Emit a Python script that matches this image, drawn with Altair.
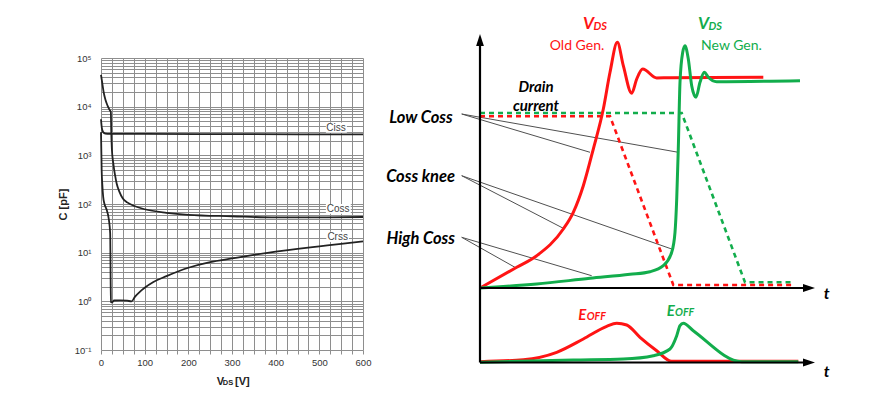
import altair as alt
import pandas as pd

# ================= Left panel: capacitance vs V_DS =================
ciss_v = [0, 2, 5, 10, 20, 100, 300, 600]
ciss_c = [5500, 3600, 3000, 2800, 2750, 2750, 2720, 2700]
coss_v = [0, 3, 6, 10, 15, 20, 22.5, 23.5, 25, 28, 32, 36, 42, 50, 60, 75, 100, 150, 200, 300, 400, 500, 600]
coss_c = [45000, 30000, 20000, 14000, 10500, 8500, 7800, 3000, 1300, 700, 400, 260, 180, 130, 108, 92, 78, 66, 60, 56, 53, 53, 54]
crss_v = [0, 1.5, 3, 5, 8, 13, 18, 21, 22.7, 25, 30, 45, 60, 70, 78, 90, 100, 120, 150, 200, 250, 300, 350, 400, 450, 500, 550, 600]
crss_c = [3000, 500, 250, 140, 100, 76, 48, 25, 0.97, 0.95, 1.04, 1.05, 1.03, 1.0, 1.25, 1.6, 1.9, 2.5, 3.3, 4.9, 6.4, 7.6, 9.0, 10.5, 12, 13.5, 15.2, 17]

cap_names = ["Ciss", "Coss", "Crss"]
cap_label_v = [538, 543, 542]
cap_label_c = [3660, 80, 21]
box_v0 = [515, 515, 516]
box_v1 = [563, 572, 568]
box_c0 = [2920, 63, 16.6]
box_c1 = [4680, 100, 27]

xtitle_text = ["V", "DS", "[V]"]
xtitle_v = [264.9, 279, 306.9]
xtitle_c = [0.0191, 0.0191, 0.0191]
xtitle_size = [11, 7.5, 11]

grid_v = list(range(0, 601, 25))
grid_c = sorted(set([round(k * 10.0 ** e, 6) for e in range(-1, 5) for k in range(1, 10)] + [100000.0]))
sup = {-1: "10⁻¹", 0: "10⁰", 1: "10¹", 2: "10²", 3: "10³", 4: "10⁴", 5: "10⁵"}
label_expr = ""
for e, s in sup.items():
    val = 10.0 ** e
    label_expr += f"abs(datum.value - {val}) < {val * 1e-6} ? '{s}' : "
label_expr += "''"

GRID = "#8e8e8e"
x_scale = alt.Scale(domain=[0, 600], nice=False, zero=False)
y_scale = alt.Scale(type="log", domain=[0.1, 100000], nice=False)
x_axis = alt.Axis(values=grid_v, labelExpr="datum.value % 100 == 0 ? datum.label : ''",
                  grid=True, gridColor=GRID, gridWidth=1, ticks=True, tickSize=4,
                  tickColor=GRID, domain=False, labelPadding=3, labelFontSize=9.5,
                  labelColor="#333", labelFont="Liberation Sans", title=None,
                  labelFlush=False, labelOverlap=False)
y_axis = alt.Axis(values=grid_c, labelExpr=label_expr, grid=True, gridColor=GRID,
                  gridWidth=1, ticks=False, tickSize=0, domain=False, labelPadding=10,
                  labelFontSize=9.5, labelColor="#333", labelFont="Liberation Sans",
                  title="C [pF]", titleFontSize=11, titleFont="Liberation Sans",
                  titleFontWeight="bold", titleColor="#222", titlePadding=7,
                  minExtent=26, maxExtent=26, labelOverlap=False, labelFlush=False)
LX = alt.X("V:Q", scale=x_scale, axis=x_axis)
LY = alt.Y("C:Q", scale=y_scale, axis=y_axis)

cap_df = pd.DataFrame({
    "V": ciss_v + coss_v + crss_v,
    "C": ciss_c + coss_c + crss_c,
    "curve": ["Ciss"] * len(ciss_v) + ["Coss"] * len(coss_v) + ["Crss"] * len(crss_v),
})
box_df = pd.DataFrame({"V": box_v0, "V2": box_v1, "C": box_c0, "C2": box_c1})
lab_df = pd.DataFrame({"V": cap_label_v, "C": cap_label_c, "label": cap_names})
xt_df = pd.DataFrame({"V": xtitle_v, "C": xtitle_c, "label": xtitle_text, "fs": xtitle_size})

left_boxes = alt.Chart(box_df).mark_rect(color="white").encode(
    x=LX, x2="V2:Q", y=LY, y2="C2:Q")
left_lines = alt.Chart(cap_df).mark_line(color="#222222", strokeWidth=1.8, interpolate="monotone").encode(
    x=LX, y=LY, detail="curve:N")
left_labels = alt.Chart(lab_df).mark_text(font="Liberation Sans", fontSize=10, color="#444",
                                          align="center", baseline="middle").encode(
    x=LX, y=LY, text="label:N")
left_xtitle = alt.Chart(xt_df).mark_text(font="Liberation Sans", fontWeight="bold", color="#222",
                                         align="left", baseline="alphabetic").encode(
    x=LX, y=LY, text="label:N", size=alt.Size("fs:Q", scale=None))
left = alt.layer(left_boxes, left_lines, left_labels, left_xtitle)

# ================= Right panel: switching waveforms (schematic units) =================
RED = "#ff1414"
GREEN = "#12ad4c"

red_vds_t = [0, 10.96, 16.93, 24.87, 27.85, 30.84, 33.82, 36.81, 38.81, 40.99, 42.78, 45.28, 46.78, 48.57, 52.75, 56.72, 84.57]
red_vds_v = [0, 8.15, 12.72, 23.23, 29.8, 40.28, 54.72, 70.47, 84.92, 96.73, 87.52, 76.65, 82.28, 86.22, 82.68, 82.8, 82.95]
green_vds_t = [0, 16.93, 32.84, 44.78, 50.75, 54.72, 57.22, 58.21, 58.72, 59.19, 59.7, 60.51, 61.19, 62.18, 63.19, 64.48, 65.67, 66.96, 68.15, 70.66, 95.52]
green_vds_v = [0, 1.57, 3.82, 5.39, 6.42, 8.78, 14.06, 21.93, 35.04, 54.72, 80.98, 92.8, 95.39, 90.16, 79.65, 75.08, 80.98, 84.92, 82.95, 81.22, 81.61]

red_id_t = [0, 38.81, 57.7, 93.52]
red_id_v = [67.6, 67.6, 1.18, 1.18]
green_id_t = [0, 60.21, 79.1, 93.52]
green_id_v = [68.9, 68.9, 2.24, 2.24]

red_eoff_t = [0, 12.93, 22.9, 30.84, 37.82, 40.81, 43.79, 47.76, 52.75, 57.22, 95.01]
red_eoff_v = [-29.0, -28.23, -25.31, -20.08, -15.08, -13.9, -14.57, -19.41, -24.69, -28.86, -28.86]
green_eoff_t = [0, 27.85, 42.78, 51.73, 56.72, 58.72, 59.7, 60.69, 63.67, 78.12, 95.01]
green_eoff_v = [-29.25, -28.35, -27.95, -26.65, -24.02, -18.78, -14.84, -13.9, -16.81, -29.02, -29.02]

ann_t0 = [-5.46, -5.46, -5.46, -5.46, -5.46, -5.46]
ann_v0 = [68.5, 68.5, 44.21, 44.21, 19.96, 19.96]
ann_t1 = [32.84, 59.19, 24.87, 57.22, 10.96, 33.34]
ann_v1 = [53.43, 53.43, 23.5, 15.35, 7.76, 4.84]

axis_t0 = [0, 0, 0]
axis_v0 = [-29.33, 0, -29.33]
axis_t1 = [0, 97, 97]
axis_v1 = [96, 0, -29.33]
arrow_t = [0, 98.21, 98.21]
arrow_v = [97.64, 0, -29.33]
arrow_shape = ["M0,-1L0.65,1L-0.65,1Z", "M1,0L-1,0.65L-1,-0.65Z", "M1,0L-1,0.65L-1,-0.65Z"]

big_text = ["Low Coss", "Coss knee", "High Coss"]
big_t = [-8.15, -7.46, -7.46]
big_v = [65.0, 41.6, 17.3]
drain_text = ["Drain", "current"]
drain_t = [16.72, 16.72]
drain_v = [77.0, 69.7]
taxis_text = ["t", "t"]
taxis_t = [103.5, 103.5]
taxis_v = [-4.33, -35.0]

vds_main_t = [30.75, 65.07]
vds_main_v = [101.97, 101.97]
vds_sub_t = [33.88, 68.2]
vds_sub_v = [101.57, 101.57]
gen_text = ["Old Gen.", "New Gen."]
gen_t = [28.96, 75.07]
gen_v = [93.7, 93.7]
eoff_main_t = [29.34, 55.73]
eoff_sub_t = [31.85, 58.2]
eoff_v = [-12.6, -11.2]
series_colors = [RED, GREEN]

rx = alt.Scale(domain=[0, 100], range=[379, 714], nice=False, zero=False)
ry = alt.Scale(domain=[0, 100], range=[230, -24], nice=False, zero=False)
X = alt.X("t:Q", scale=rx, axis=None)
Y = alt.Y("v:Q", scale=ry, axis=None)


def series_df(pairs):
    rows = []
    for name, col, ts, vs in pairs:
        for i, (t, v) in enumerate(zip(ts, vs)):
            rows.append({"t": t, "v": v, "s": name, "col": col, "i": i})
    return pd.DataFrame(rows)


vds_df = series_df([("old", RED, red_vds_t, red_vds_v), ("new", GREEN, green_vds_t, green_vds_v)])
id_df = series_df([("new", GREEN, green_id_t, green_id_v), ("old", RED, red_id_t, red_id_v)])
eoff_df = series_df([("old", RED, red_eoff_t, red_eoff_v), ("new", GREEN, green_eoff_t, green_eoff_v)])
ann_df = pd.DataFrame({"t": ann_t0, "v": ann_v0, "t2": ann_t1, "v2": ann_v1})
axis_df = pd.DataFrame({"t": axis_t0, "v": axis_v0, "t2": axis_t1, "v2": axis_v1})
arrow_df = pd.DataFrame({"t": arrow_t, "v": arrow_v, "shape": arrow_shape})

ann = alt.Chart(ann_df).mark_rule(color="#505050", strokeWidth=1).encode(x=X, y=Y, x2="t2:Q", y2="v2:Q")
idl = alt.Chart(id_df).mark_line(strokeWidth=2.6, strokeDash=[5, 4]).encode(
    x=X, y=Y, detail="s:N", order="i:Q", color=alt.Color("col:N", scale=None))
vds = alt.Chart(vds_df).mark_line(strokeWidth=3, interpolate="monotone").encode(
    x=X, y=Y, detail="s:N", order="i:Q", color=alt.Color("col:N", scale=None))
eoff = alt.Chart(eoff_df).mark_line(strokeWidth=3, interpolate="monotone").encode(
    x=X, y=Y, detail="s:N", order="i:Q", color=alt.Color("col:N", scale=None))
axes = alt.Chart(axis_df).mark_rule(color="black", strokeWidth=2.2).encode(x=X, y=Y, x2="t2:Q", y2="v2:Q")
arrows = alt.Chart(arrow_df).mark_point(filled=True, color="black", opacity=1, size=144, strokeWidth=0).encode(
    x=X, y=Y, shape=alt.Shape("shape:N", scale=None))

FONT = "Lato"
big = alt.Chart(pd.DataFrame({"t": big_t, "v": big_v, "label": big_text})).mark_text(
    font=FONT, fontSize=16.5, fontWeight="bold", fontStyle="italic", color="black",
    align="right", baseline="alphabetic").encode(x=X, y=Y, text="label:N")
drain = alt.Chart(pd.DataFrame({"t": drain_t, "v": drain_v, "label": drain_text})).mark_text(
    font=FONT, fontSize=15, fontWeight="bold", fontStyle="italic", color="black",
    align="center", baseline="alphabetic").encode(x=X, y=Y, text="label:N")
taxis = alt.Chart(pd.DataFrame({"t": taxis_t, "v": taxis_v, "label": taxis_text})).mark_text(
    font=FONT, fontSize=16, fontWeight="bold", fontStyle="italic", color="black",
    align="center", baseline="alphabetic").encode(x=X, y=Y, text="label:N")
vmain = alt.Chart(pd.DataFrame({"t": vds_main_t, "v": vds_main_v, "label": ["V", "V"], "col": series_colors})).mark_text(
    font=FONT, fontSize=17, fontWeight="bold", fontStyle="italic", align="left", baseline="alphabetic").encode(
    x=X, y=Y, text="label:N", color=alt.Color("col:N", scale=None))
vsub = alt.Chart(pd.DataFrame({"t": vds_sub_t, "v": vds_sub_v, "label": ["DS", "DS"], "col": series_colors})).mark_text(
    font=FONT, fontSize=11, fontWeight="bold", fontStyle="italic", align="left", baseline="alphabetic").encode(
    x=X, y=Y, text="label:N", color=alt.Color("col:N", scale=None))
gen = alt.Chart(pd.DataFrame({"t": gen_t, "v": gen_v, "label": gen_text, "col": series_colors})).mark_text(
    font=FONT, fontSize=14, align="center", baseline="alphabetic").encode(
    x=X, y=Y, text="label:N", color=alt.Color("col:N", scale=None))
emain = alt.Chart(pd.DataFrame({"t": eoff_main_t, "v": eoff_v, "label": ["E", "E"], "col": series_colors})).mark_text(
    font=FONT, fontSize=15, fontWeight="bold", fontStyle="italic", align="left", baseline="alphabetic").encode(
    x=X, y=Y, text="label:N", color=alt.Color("col:N", scale=None))
esub = alt.Chart(pd.DataFrame({"t": eoff_sub_t, "v": eoff_v, "label": ["OFF", "OFF"], "col": series_colors})).mark_text(
    font=FONT, fontSize=10.5, fontWeight="bold", fontStyle="italic", align="left", baseline="alphabetic").encode(
    x=X, y=Y, text="label:N", color=alt.Color("col:N", scale=None))

right = alt.layer(ann, idl, vds, eoff, axes, arrows, big, drain, taxis, vmain, vsub, gen, emain, esub)

chart = alt.layer(left, right).resolve_scale(x="independent", y="independent").properties(
    width=262, height=292,
    padding={"left": 57, "top": 14, "right": 5, "bottom": 5},
).configure_view(stroke=None)

chart.save("out.html", embed_options={"renderer": "svg", "actions": False})
